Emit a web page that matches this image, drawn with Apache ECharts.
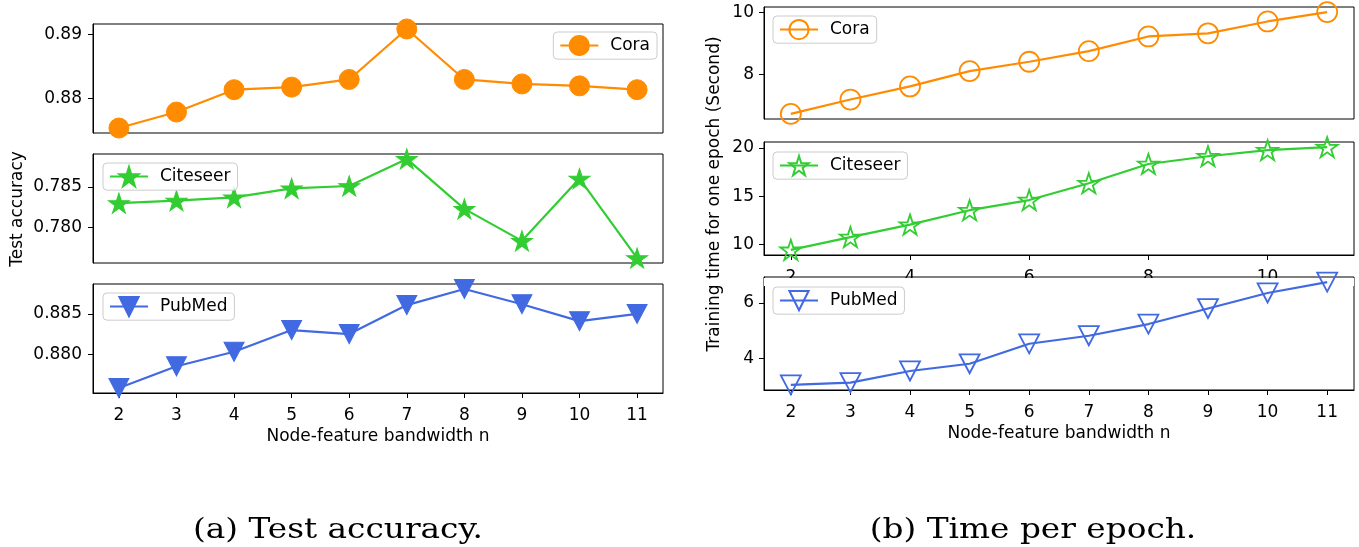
<!DOCTYPE html>
<html>
<head>
<meta charset="utf-8">
<script src="https://cdn.jsdelivr.net/npm/echarts@6/dist/echarts.min.js"></script>
<style>
html,body{margin:0;padding:0;background:#fff;}
#chart{width:1359px;height:547px;}
</style>
</head>
<body>
<div id="chart"></div>
<script>
// ---- data ----
const bandwidth = [2, 3, 4, 5, 6, 7, 8, 9, 10, 11];
const accCora     = [0.8754, 0.8779, 0.8814, 0.8818, 0.8830, 0.8909, 0.8830, 0.8823, 0.8820, 0.8814];
const accCiteseer = [0.7830, 0.7833, 0.7837, 0.7848, 0.7851, 0.7884, 0.7823, 0.7784, 0.7860, 0.7763];
const accPubMed   = [0.8758, 0.8785, 0.8803, 0.8830, 0.8825, 0.8861, 0.8881, 0.8862, 0.8841, 0.8850];
const timeCora     = [6.74, 7.20, 7.62, 8.11, 8.41, 8.75, 9.22, 9.32, 9.70, 10.00];
const timeCiteseer = [9.45, 10.77, 12.06, 13.55, 14.60, 16.34, 18.33, 19.13, 19.76, 20.07];
const timePubMed   = [3.05, 3.13, 3.55, 3.81, 4.53, 4.82, 5.24, 5.80, 6.36, 6.75];
const accTicks = [[0.88, 0.89], [0.780, 0.785], [0.880, 0.885]];
const timeTicks = [[8, 10], [10, 15, 20], [4, 6]];
const xTicksAll = [2, 3, 4, 5, 6, 7, 8, 9, 10, 11];
const xTicksEven = [2, 4, 6, 8, 10];
const xTitle = 'Node-feature bandwidth n';
const yTitleLeft = 'Test accuracy';
const yTitleRight = 'Training time for one epoch (Second)';
const captionLeft = '(a) Test accuracy.';
const captionRight = '(b) Time per epoch.';
const names = ['Cora', 'Citeseer', 'PubMed'];

// ---- styles ----
const colors = ['#ff8c00', '#32cd32', '#4169e1'];
const STAR = 'path://M50,0 L61.23,34.55 L97.55,34.55 L68.16,55.90 L79.39,90.45 L50,69.1 L20.61,90.45 L31.84,55.90 L2.45,34.55 L38.77,34.55 Z';
const TRI_DOWN = 'path://M0,0 L20,0 L10,20 Z';
const symbols = ['circle', STAR, TRI_DOWN];
const symSizes = [20, [21, 20], [20, 19]];
const FONT = 'DejaVu Sans';

const leftGrids = [
  {left: 93, top: 24, width: 570, height: 109},
  {left: 93, top: 154, width: 570, height: 109},
  {left: 93, top: 284, width: 570, height: 109}
];
const rightGrids = [
  {left: 764, top: 7, width: 590, height: 112},
  {left: 764, top: 142, width: 590, height: 113},
  {left: 764, top: 277, width: 590, height: 113}
];

function extent(arr) {
  const mn = Math.min(...arr), mx = Math.max(...arr);
  const pad = (mx - mn) * 0.05;
  return [mn - pad, mx + pad];
}
function pairs(ys) { return bandwidth.map((x, i) => [x, ys[i]]); }

const grids = [], xAxes = [], yAxes = [], series = [], legends = [];
const accData = [accCora, accCiteseer, accPubMed];
const timeData = [timeCora, timeCiteseer, timePubMed];

function addPanel(g, ys, yTicks, yFmt, xTicks, name, legendName, idx, hollow, legendPos, yMargin) {
  const gi = grids.length;
  grids.push(Object.assign({show: true, borderColor: '#000', borderWidth: 1, backgroundColor: 'transparent', containLabel: false}, g));
  const hasX = !!xTicks;
  xAxes.push({
    type: 'value', gridIndex: gi, min: 1.55, max: 11.45,
    splitLine: {show: false},
    axisLine: {show: hasX, onZero: false, lineStyle: {color: '#000', width: 1}},
    axisTick: {show: hasX, length: 5, customValues: xTicks || [], lineStyle: {color: '#000'}},
    axisLabel: {show: hasX, margin: 14, customValues: xTicks || [], color: '#000', fontFamily: FONT, fontSize: 17},
    name: (hasX && gi % 3 === 2) ? xTitle : '',
    nameLocation: 'middle', nameGap: 35,
    nameTextStyle: {color: '#000', fontFamily: FONT, fontSize: 17}
  });
  const ext = extent(ys);
  yAxes.push({
    type: 'value', gridIndex: gi, min: ext[0], max: ext[1],
    splitLine: {show: false},
    axisLine: {show: true, onZero: false, lineStyle: {color: '#000', width: 1}},
    axisTick: {show: true, length: 5, customValues: yTicks, lineStyle: {color: '#000'}},
    axisLabel: {show: true, margin: yMargin, customValues: yTicks, color: '#000', fontFamily: FONT, fontSize: 17, formatter: yFmt}
  });
  const c = colors[idx];
  series.push({
    type: 'line', name: legendName, xAxisIndex: gi, yAxisIndex: gi,
    data: pairs(ys), symbol: symbols[idx], symbolSize: symSizes[idx],
    showAllSymbol: true, clip: true, z: 3,
    lineStyle: {color: c, width: 2.2},
    itemStyle: hollow ? {color: 'rgba(255,255,255,0)', borderColor: c, borderWidth: 1.8} : {color: c, borderColor: c, borderWidth: 1},
    emphasis: {disabled: true},
    animation: false
  });
  legends.push(Object.assign({
    data: [legendName], orient: 'vertical',
    formatter: () => name,
    itemWidth: 38, itemHeight: 24, itemGap: 0,
    padding: [3, 7, 3, 6],
    borderColor: '#cccccc', borderWidth: 1, borderRadius: 4,
    backgroundColor: 'rgba(255,255,255,0.8)',
    selectedMode: false,
    textStyle: {color: '#000', fontFamily: FONT, fontSize: 17, padding: [0, 0, 0, 7]}
  }, legendPos));
}

const accFmt = [v => v.toFixed(2), v => v.toFixed(3), v => v.toFixed(3)];
const leftLegendPos = [{right: 1359 - 657, top: 32}, {left: 103, top: 163}, {left: 103, top: 293}];
const rightLegendPos = [{left: 773, top: 16}, {left: 773, top: 152}, {left: 773, top: 287}];
for (let i = 0; i < 3; i++) {
  addPanel(leftGrids[i], accData[i], accTicks[i], accFmt[i], i === 2 ? xTicksAll : null, names[i], names[i], i, false, leftLegendPos[i], 11);
}
for (let i = 0; i < 3; i++) {
  const xt = i === 2 ? xTicksAll : (i === 1 ? xTicksEven : null);
  addPanel(rightGrids[i], timeData[i], timeTicks[i], v => String(v), xt, names[i], names[i] + ' (time)', i, true, rightLegendPos[i], 10);
}

const option = {
  animation: false,
  backgroundColor: '#ffffff',
  grid: grids, xAxis: xAxes, yAxis: yAxes, series: series, legend: legends,
  graphic: [
    {type: 'rect', z: 1, shape: {x: 764, y: 278, width: 590, height: 8}, style: {fill: '#fff'}},
    {type: 'text', x: 18, y: 209, rotation: Math.PI / 2, style: {text: yTitleLeft, fill: '#000', font: '17px "DejaVu Sans"', align: 'center', verticalAlign: 'middle'}},
    {type: 'text', x: 715, y: 194, rotation: Math.PI / 2, style: {text: yTitleRight, fill: '#000', font: '17px "DejaVu Sans"', align: 'center', verticalAlign: 'middle'}},
    {type: 'text', x: 338, y: 531, scaleX: 1.17, style: {text: captionLeft, fill: '#000', font: '28px "DejaVu Serif"', align: 'center', verticalAlign: 'middle'}},
    {type: 'text', x: 1033, y: 531, scaleX: 1.17, style: {text: captionRight, fill: '#000', font: '28px "DejaVu Serif"', align: 'center', verticalAlign: 'middle'}}
  ]
};
const chart = echarts.init(document.getElementById('chart'), null, {renderer: 'canvas'});
chart.setOption(option);
</script>
</body>
</html>
